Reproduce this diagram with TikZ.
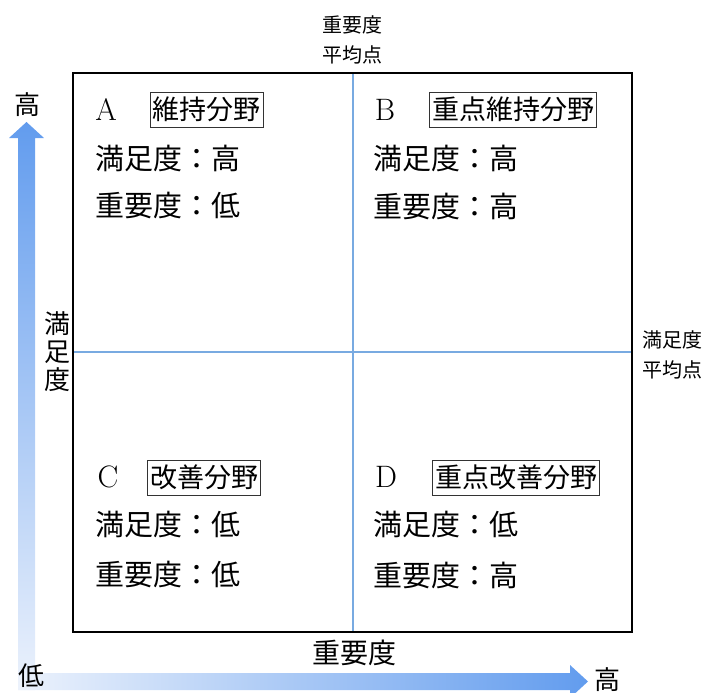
\documentclass[tikz,border=0pt]{standalone}
\usepackage{fontspec}
\newfontfamily\cjk{Noto Sans CJK JP}
\usetikzlibrary{shadings}
\definecolor{axisblue}{RGB}{98,156,238}
\definecolor{axislight}{RGB}{236,242,252}
\definecolor{gridblue}{RGB}{120,170,225}
\tikzset{
  big/.style={font=\cjk\fontsize{26}{28}\selectfont, inner sep=0pt},
  letter/.style={font=\fontsize{31}{33}\selectfont, inner sep=0pt},
  axislbl/.style={font=\cjk\fontsize{26}{28}\selectfont, inner sep=0pt},
  tag/.style={draw=black!80, line width=0.9pt, inner xsep=2.5pt, inner ysep=0pt, minimum height=35pt, font=\cjk\fontsize{27}{29}\selectfont},
  row/.style={font=\cjk\fontsize{29}{31}\selectfont, inner sep=0pt, anchor=west},
  meanlbl/.style={align=center, inner sep=0pt, font=\cjk\fontsize{20}{30}\selectfont},
}
\begin{document}
\begin{tikzpicture}[x=1pt,y=-1pt]
\useasboundingbox (0,0) rectangle (705,693);
% gradient arrows
\shade[top color=axisblue, bottom color=axislight]
  (18,690) -- (18,138) -- (9,138) -- (26.5,122) -- (44,138) -- (35,138) -- (35,690) -- cycle;
\shade[left color=axislight, right color=axisblue]
  (18,673) -- (570,673) -- (570,665) -- (588,681.5) -- (570,698) -- (570,690) -- (18,690) -- cycle;
% quadrant frame
\coordinate (tl) at (73,73);
\coordinate (br) at (632,632);
\coordinate (tm) at (353,73);
\coordinate (bm) at (353,632);
\coordinate (lm) at (73,352);
\coordinate (rm) at (632,352);
\draw[gridblue, line width=1.2pt] (tm) -- (bm);
\draw[gridblue, line width=1.2pt] (lm) -- (rm);
\draw[black, line width=1.5pt] (tl) rectangle (br);
% axis labels
\node[axislbl] (yhigh) at (28,105) {高};
\node[axislbl] (xlow) at (31,676) {低};
\node[axislbl] (xhigh) at (607,680) {高};
\node[axislbl, font=\cjk\fontsize{28}{30}\selectfont] (xname) at (354,653) {重要度};
\node[axislbl, align=center, font=\cjk\fontsize{26}{28}\selectfont] (yname) at (57,352) {満\\足\\度};
\node[meanlbl] (vmean) at (352,40) {重要度\\平均点};
\node[meanlbl] (hmean) at (672,355) {満足度\\平均点};
% quadrant A
\node[letter] (qa) at (106,110) {A};
\node[tag] (ta) at (206.5,109.5) {維持分野};
\node[row] (a1) at (95,158) {満足度：高};
\node[row] (a2) at (95,206) {重要度：低};
% quadrant B
\node[letter] (qb) at (385,110) {B};
\node[tag] (tb) at (513,109.5) {重点維持分野};
\node[row] (b1) at (373,158) {満足度：高};
\node[row] (b2) at (373,206) {重要度：高};
% quadrant C
\node[letter] (qc) at (108,477) {C};
\node[tag] (tc) at (204,477.5) {改善分野};
\node[row] (c1) at (95,525) {満足度：低};
\node[row] (c2) at (95,575) {重要度：低};
% quadrant D
\node[letter] (qd) at (386,477) {D};
\node[tag] (td) at (516,477.5) {重点改善分野};
\node[row] (d1) at (373,525) {満足度：低};
\node[row] (d2) at (373,575) {重要度：高};
\end{tikzpicture}
\end{document}
